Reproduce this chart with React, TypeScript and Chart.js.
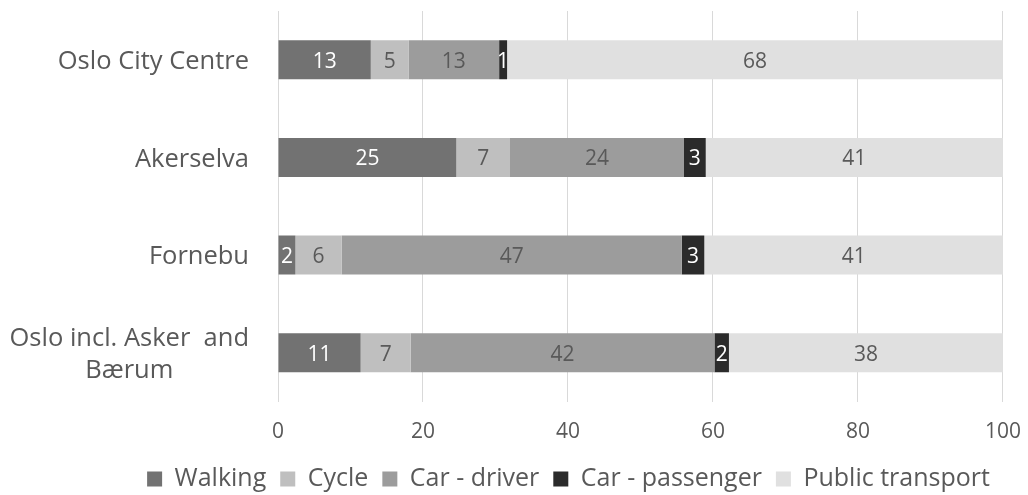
import React, { useEffect, useRef } from "react";
import { Chart, registerables } from "chart.js";

Chart.register(...registerables);

// Categories (y axis), top to bottom
const categories: (string | string[])[] = [
  "Oslo City Centre",
  "Akerselva",
  "Fornebu",
  ["Oslo incl. Asker  and", "Bærum"],
];

const seriesNames = ["Walking", "Cycle", "Car - driver", "Car - passenger", "Public transport"];

// Shares in percent
const walking = [12.8, 24.6, 2.4, 11.4];
const cycle = [5.2, 7.4, 6.4, 6.9];
const carDriver = [12.5, 24.0, 46.9, 41.9];
const carPassenger = [1.1, 3.0, 3.1, 2.0];
const publicTransport = [68.4, 41.0, 41.2, 37.8];

const xTicks = [0, 20, 40, 60, 80, 100];

const FONT = "'Open Sans', 'Noto Sans', sans-serif";
const TEXT = "#595959";

export default function App() {
  const ref = useRef<HTMLCanvasElement>(null);

  useEffect(() => {
    const canvas = ref.current!;
    const colors = ["#727272", "#bfbfbf", "#9c9c9c", "#2b2b2b", "#e0e0e0"];
    const labelColors = ["#ffffff", TEXT, TEXT, "#ffffff", TEXT];
    const values = [walking, cycle, carDriver, carPassenger, publicTransport];

    const datasets = seriesNames.map((name, i) => ({
      label: name,
      data: values[i],
      backgroundColor: colors[i],
      borderWidth: 0,
      barPercentage: 0.4,
      categoryPercentage: 1,
    }));

    const barLabels = {
      id: "barLabels",
      afterDatasetsDraw(chart: any) {
        const ctx = chart.ctx;
        ctx.save();
        ctx.font = `21px ${FONT}`;
        ctx.textAlign = "center";
        ctx.textBaseline = "middle";
        chart.data.datasets.forEach((ds: any, d: number) => {
          const meta = chart.getDatasetMeta(d);
          meta.data.forEach((el: any, i: number) => {
            const v = ds.data[i];
            const cx = (el.x + el.base) / 2;
            ctx.fillStyle = labelColors[d];
            ctx.fillText(String(Math.round(v)), cx, el.y + 2);
          });
        });
        ctx.restore();
      },
    };

    const catLabels = {
      id: "catLabels",
      afterDraw(chart: any) {
        const ctx = chart.ctx;
        const yScale = chart.scales.y;
        const right = 249;
        const lineH = 32.5;
        ctx.save();
        ctx.font = `25.5px ${FONT}`;
        ctx.fillStyle = TEXT;
        ctx.textAlign = "center";
        ctx.textBaseline = "middle";
        categories.forEach((lab, i) => {
          const lines = Array.isArray(lab) ? lab : [lab];
          const w = Math.max(...lines.map((l) => ctx.measureText(l).width));
          const cx = right - w / 2;
          const yc = yScale.getPixelForTick(i) + 2;
          lines.forEach((l, j) => {
            ctx.fillText(l, cx, yc + (j - (lines.length - 1) / 2) * lineH);
          });
        });
        ctx.restore();
      },
    };

    const chart = new Chart(canvas, {
      type: "bar",
      data: { labels: categories as any, datasets },
      options: {
        indexAxis: "y",
        animation: false,
        responsive: true,
        maintainAspectRatio: false,
        events: [],
        layout: { padding: { left: 109, right: 0, top: 11, bottom: -6.5 } },
        scales: {
          x: {
            stacked: true,
            min: 0,
            max: 100,
            afterBuildTicks: (s: any) => {
              s.ticks = xTicks.map((v) => ({ value: v }));
            },
            afterFit: (s: any) => {
              s.height = 51;
            },
            grid: {
              color: "#d9d9d9",
              lineWidth: 1,
              drawTicks: true,
              tickLength: 11,
              tickColor: "rgba(0,0,0,0)",
            },
            border: { display: false },
            ticks: {
              color: TEXT,
              font: { family: FONT, size: 21 },
              padding: 7,
            },
          },
          y: {
            stacked: true,
            grid: { display: false },
            border: { display: false },
            ticks: { display: false },
            afterFit: (s: any) => {
              s.width = 169;
            },
          },
        },
        plugins: {
          legend: {
            position: "bottom",
            labels: {
              color: TEXT,
              font: { family: FONT, size: 25 },
              boxWidth: 15,
              boxHeight: 15,
              padding: 14,
            },
          },
          tooltip: { enabled: false },
        },
      },
      plugins: [barLabels, catLabels],
    });
    return () => chart.destroy();
  }, []);

  return (
    <div style={{ position: "absolute", left: 0, top: 0, width: 1028, height: 495 }}>
      <canvas ref={ref} />
    </div>
  );
}
